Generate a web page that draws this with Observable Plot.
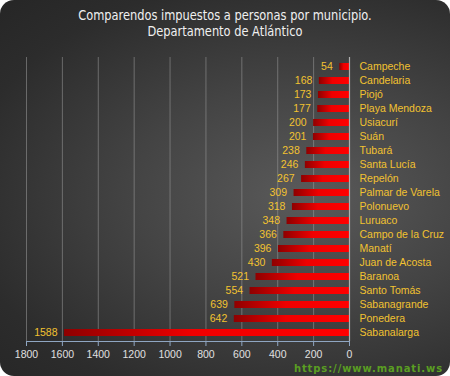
<!DOCTYPE html>
<html>
<head>
<meta charset="utf-8">
<script src="https://cdn.jsdelivr.net/npm/d3@7"></script>
<script src="https://cdn.jsdelivr.net/npm/@observablehq/plot@0.6"></script>
<style>
  html, body { margin: 0; padding: 0; background: #ffffff; }
  #wrap {
    position: relative; width: 450px; height: 376px; border-radius: 14px; overflow: hidden;
    background: radial-gradient(ellipse at 68% 52%, #5a5a5a 0%, #444444 40%, #2c2c2c 80%, #262626 100%);
  }
  #title {
    position: absolute; top: 7px; left: 0; width: 450px; text-align: center;
    font-family: "Liberation Sans Narrow", "DejaVu Sans Condensed", "Roboto Condensed", sans-serif;
    font-size: 13.5px; line-height: 16px; color: #f0f0f0; transform: scaleX(0.94); transform-origin: 225px 0;
  }
  #chart { position: absolute; top: 50px; left: 0; }
  #cap {
    position: absolute; right: 7px; bottom: 2px;
    font-family: "DejaVu Sans", sans-serif; font-weight: bold; font-size: 10px; letter-spacing: 0.9px; color: #5a9e22;
  }
</style>
</head>
<body>
<div id="wrap">
  <div id="title">Comparendos impuestos a personas por municipio.<br>Departamento de Atlántico</div>
  <div id="chart"></div>
  <div id="cap">https://www.manati.ws</div>
</div>
<script>
const municipios = ["Campeche","Candelaria","Piojó","Playa Mendoza","Usiacurí","Suán","Tubará","Santa Lucía","Repelón","Palmar de Varela","Polonuevo","Luruaco","Campo de la Cruz","Manatí","Juan de Acosta","Baranoa","Santo Tomás","Sabanagrande","Ponedera","Sabanalarga"];
const comparendos = [54,168,173,177,200,201,238,246,267,309,318,348,366,396,430,521,554,639,642,1588];
const xTicks = [0,200,400,600,800,1000,1200,1400,1600,1800];

const data = municipios.map((m, i) => ({name: m, value: comparendos[i]}));

const labelColor = "#f2c230";

const defs = () => {
  const d = d3.create("svg:defs");
  const g = d.append("linearGradient").attr("id", "barGrad").attr("x1", 0).attr("x2", 1).attr("y1", 0).attr("y2", 0);
  g.append("stop").attr("offset", "0%").attr("stop-color", "#8e0000");
  g.append("stop").attr("offset", "45%").attr("stop-color", "#f00000");
  g.append("stop").attr("offset", "100%").attr("stop-color", "#ff0000");
  return d.node();
};

const chart = Plot.plot({
  width: 450,
  height: 326,
  marginTop: 7,
  marginBottom: 35,
  marginLeft: 26,
  marginRight: 101,
  style: {background: "transparent", fontFamily: "'Liberation Sans', Arial, sans-serif", overflow: "visible"},
  x: {domain: [0, 1800], reverse: true, label: null},
  y: {domain: municipios, paddingInner: 0.52, paddingOuter: 0.26, axis: null},
  marks: [
    defs,
    Plot.gridX(xTicks, {stroke: "#9a9a9a", strokeOpacity: 0.55, strokeWidth: 1}),
    Plot.barX(data, {x: "value", y: "name", fill: "url(#barGrad)"}),
    Plot.ruleX([0], {stroke: "#b0b0b0", strokeWidth: 1.2}),
    Plot.frame({anchor: "bottom", stroke: "#8fa6c2"}),
    Plot.axisX(xTicks, {anchor: "bottom", tickSize: 5, tickPadding: 4, color: "#e0e0e0", fontSize: 10.5, label: null, tickFormat: d => String(d)}),
    Plot.text(data, {x: "value", y: "name", text: d => String(d.value), textAnchor: "end", dx: -7, fill: labelColor, fontSize: 10.5}),
    Plot.text(data, {x: 0, y: "name", text: "name", textAnchor: "start", dx: 10, fill: labelColor, fontSize: 10.5})
  ]
});

d3.select(chart).selectAll("g[aria-label='x-axis tick'] path").attr("stroke", "#8fa6c2");
document.getElementById("chart").appendChild(chart);
</script>
</body>
</html>
